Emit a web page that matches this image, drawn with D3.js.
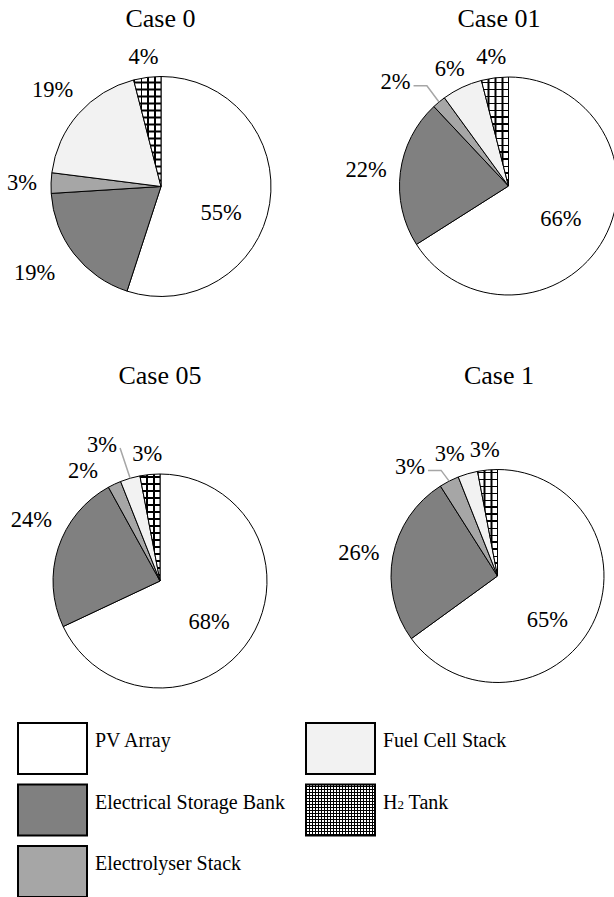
<!DOCTYPE html>
<html>
<head>
<meta charset="utf-8">
<script src="https://cdn.jsdelivr.net/npm/d3@7"></script>
<style>
  body { margin: 0; background: #fff; }
</style>
</head>
<body>
<svg id="CHART" width="614" height="897"></svg>
<script>
// component names, drawn clockwise from 12 o'clock
var SERIES = ["PV Array", "Electrical Storage Bank", "Electrolyser Stack", "Fuel Cell Stack", "H2 Tank"];
var CASES = ["Case 0", "Case 01", "Case 05", "Case 1"];

// cost shares (%) per case, same order as SERIES
var CASE_0 = [55, 19, 3, 19, 4];
var CASE_01 = [66, 22, 2, 6, 4];
var CASE_05 = [68, 24, 2, 3, 3];
var CASE_1 = [65, 26, 3, 3, 3];

var VALUES = [CASE_0, CASE_01, CASE_05, CASE_1];

var FILLS = ["#ffffff", "#808080", "#a6a6a6", "#f2f2f2", "url(#h2grid)"];
var LEGEND_FILLS = ["#ffffff", "#808080", "#a6a6a6", "#f2f2f2", "url(#h2gridFine)"];

// layout of the four pies
var PIES = [
  { cx: 161, cy: 186.5, r: 110, tx: 160.5, ty: 27 },
  { cx: 508.5, cy: 186, r: 109, tx: 499, ty: 27 },
  { cx: 160, cy: 581, r: 107, tx: 160, ty: 384 },
  { cx: 497.5, cy: 576, r: 106.5, tx: 499, ty: 384 }
];

// small hand nudges where Excel's "best fit" moved a label
var NUDGE = {
  "0-0": [-5, 16], "0-1": [-12, 6], "0-3": [0, -10],
  "1-0": [-5, 1], "1-2": [-25, -4],
  "2-0": [-5, 6], "2-1": [6, -22], "2-2": [-19, 5], "2-3": [-20, -14],
  "3-0": [-7, 15], "3-2": [-26, 4], "3-3": [-10, 0]
};
var LEADERS = { "1-2": true, "2-3": true, "3-2": true };

var svg = d3.select("#CHART");

// pick the first serif face the browser really has
function hasFont(name) {
  var probe = svg.append("text").style("font-size", "40px").text("Case 05 Electrical mw");
  var ok = ["monospace", "sans-serif"].some(function (base) {
    probe.style("font-family", base);
    var w0 = probe.node().getComputedTextLength();
    probe.style("font-family", "'" + name + "'," + base);
    return Math.abs(probe.node().getComputedTextLength() - w0) > 0.5;
  });
  probe.remove();
  return ok;
}
var SERIF = ["Liberation Serif", "Times New Roman", "Tinos", "Nimbus Roman", "FreeSerif", "DejaVu Serif", "Noto Serif"]
  .filter(hasFont)[0];
svg.style("font-family", (SERIF ? "'" + SERIF + "'," : "") + "serif");

var defs = svg.append("defs");

// H2 tank hatch: coarse one for slices, fine one for the legend key
function makeGrid(id, size, sw) {
  var p = defs.append("pattern")
    .attr("id", id)
    .attr("patternUnits", "userSpaceOnUse")
    .attr("width", size)
    .attr("height", size);
  p.append("rect").attr("width", size).attr("height", size).attr("fill", "#fff");
  p.append("path")
    .attr("d", "M0," + sw / 2 + "H" + size + "M" + sw / 2 + ",0V" + size)
    .attr("stroke", "#000")
    .attr("stroke-width", sw);
}
makeGrid("h2grid", 7, 2);
makeGrid("h2gridFine", 3, 1);

var pie = d3.pie().sort(null).value(function (d) { return d; });

PIES.forEach(function (P, ci) {
  var g = svg.append("g").attr("transform", "translate(" + P.cx + "," + P.cy + ")");
  var arc = d3.arc().innerRadius(0).outerRadius(P.r);
  var arcs = pie(VALUES[ci]);

  svg.append("text")
    .attr("x", P.tx)
    .attr("y", P.ty)
    .attr("text-anchor", "middle")
    .style("font-size", "26px")
    .text(CASES[ci]);

  g.selectAll("path.slice")
    .data(arcs)
    .join("path")
    .attr("class", "slice")
    .attr("d", arc)
    .attr("fill", function (d, i) { return FILLS[i]; })
    .attr("stroke", "#000")
    .attr("stroke-width", 1);

  arcs.forEach(function (d, i) {
    var mid = (d.startAngle + d.endAngle) / 2;
    var s = Math.sin(mid), c = -Math.cos(mid);
    var key = ci + "-" + i;
    var nd = NUDGE[key] || [0, 0];

    var t = g.append("text")
      .attr("text-anchor", "middle")
      .attr("dy", "0.33em")
      .style("font-size", "22.5px")
      .text(d.value + "%");
    var hw = t.node().getComputedTextLength() / 2;

    var x, y;
    if (i === 0) {
      // big PV slice keeps its label inside
      x = 0.6 * P.r * s;
      y = 0.6 * P.r * c;
    } else {
      var rr = P.r + 14;
      x = rr * s + hw * s;
      y = rr * c + 7 * c;
    }
    x += nd[0];
    y += nd[1];
    t.attr("x", x).attr("y", y);

    if (LEADERS[key]) {
      var end = [P.r * s, P.r * c];
      var start = [x + hw + 3, y + 4];
      var ex = Math.max(start[0], end[0] - 0.75 * Math.abs(end[1] - start[1]));
      g.append("path")
        .attr("d", "M" + start[0] + "," + start[1] + "H" + ex + "L" + end[0] + "," + end[1])
        .attr("fill", "none")
        .attr("stroke", "#a6a6a6")
        .attr("stroke-width", 1.5);
    }
  });
});

// legend, two columns
var LEG_ORDER = [0, 3, 1, 4, 2];
var legend = svg.append("g");
LEG_ORDER.forEach(function (si, k) {
  var col = k % 2, row = Math.floor(k / 2);
  var x = col === 0 ? 18 : 306;
  var y = 723 + row * 61.5;
  legend.append("rect")
    .attr("x", x)
    .attr("y", y)
    .attr("width", 69)
    .attr("height", 51)
    .attr("fill", LEGEND_FILLS[si])
    .attr("stroke", "#000")
    .attr("stroke-width", 2);
  var t = legend.append("text")
    .attr("x", x + 77)
    .attr("y", y + 24)
    .style("font-size", "20px");
  if (SERIES[si] === "H2 Tank") {
    t.append("tspan").text("H");
    t.append("tspan").style("font-size", "13px").text("2");
    t.append("tspan").text(" Tank");
  } else {
    t.text(SERIES[si]);
  }
});
</script>
</body>
</html>
